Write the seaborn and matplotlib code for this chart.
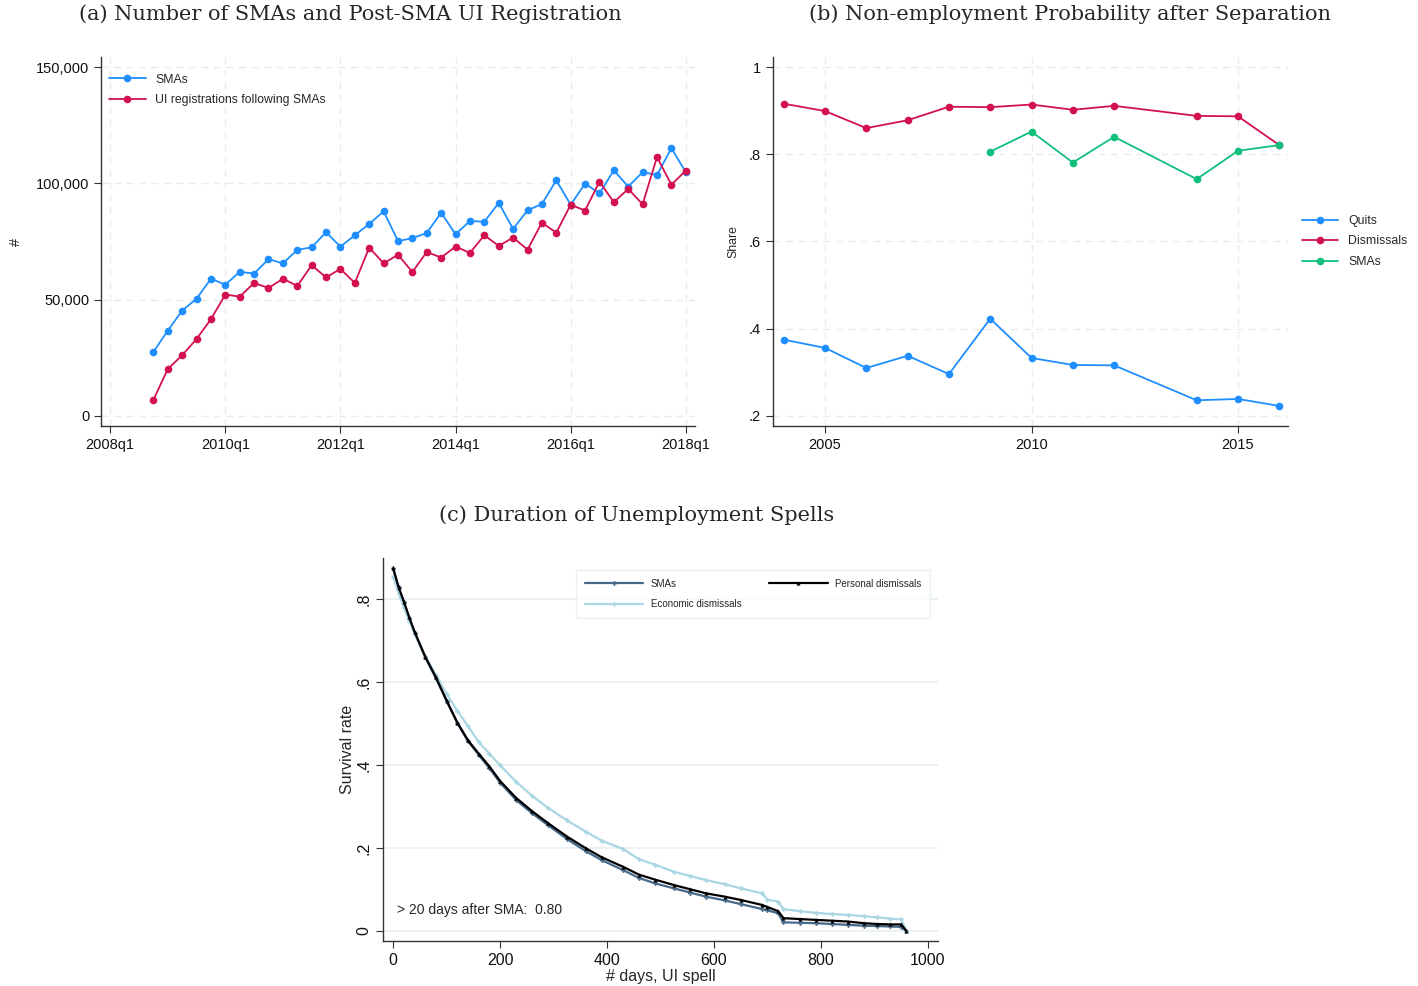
import numpy as np
import pandas as pd
import matplotlib
matplotlib.use("Agg")
import matplotlib.pyplot as plt
import seaborn as sns
from matplotlib.ticker import FuncFormatter

# ---- panel (a): quarterly counts, 2008q4 .. 2018q1
quarters = [str(p).replace("Q", "q") for p in pd.period_range("2008Q4", "2018Q1", freq="Q")]
smas = [27500, 36700, 45300, 50400, 59000, 56400, 62000, 61200, 67400, 65600,
        71400, 72500, 79000, 72800, 77700, 82500, 88000, 75200, 76400, 78700,
        87400, 78100, 83800, 83500, 91600, 80400, 88400, 91100, 101300, 90800,
        99900, 95700, 105600, 98600, 104800, 103600, 115100, 104800]
ui_reg = [6900, 20200, 26100, 33100, 41600, 52200, 51300, 57200, 55000, 59000,
          55900, 64800, 59600, 63200, 57200, 72400, 65600, 69300, 61900, 70500,
          68100, 72800, 70100, 77700, 73100, 76700, 71500, 83100, 78800, 90800,
          88300, 100700, 91900, 97600, 91000, 111300, 99400, 105500]

# ---- panel (b): non-employment share after separation
years_b = [2004, 2005, 2006, 2007, 2008, 2009, 2010, 2011, 2012, 2014, 2015, 2016]
quits = [0.375, 0.356, 0.310, 0.338, 0.296, 0.423, 0.333, 0.317, 0.316, 0.236, 0.239, 0.223]
dismissals = [0.916, 0.899, 0.860, 0.878, 0.909, 0.908, 0.914, 0.902, 0.911, 0.888, 0.887, 0.821]
years_sma = [2009, 2010, 2011, 2012, 2014, 2015, 2016]
sma_share = [0.806, 0.852, 0.781, 0.840, 0.743, 0.808, 0.821]

# ---- panel (c): survival in unemployment
days = [0, 10, 20, 30, 40, 60, 80, 100, 120, 140, 160, 180, 200, 230, 260, 290,
        325, 360, 390, 430, 460, 490, 525, 555, 585, 620, 650, 690, 700, 720,
        730, 760, 790, 820, 850, 880, 905, 930, 950, 960]
surv_sma = [0.875, 0.830, 0.793, 0.755, 0.720, 0.660, 0.610, 0.555, 0.502, 0.458,
            0.425, 0.393, 0.358, 0.316, 0.284, 0.255, 0.222, 0.193, 0.171, 0.147,
            0.128, 0.115, 0.103, 0.093, 0.083, 0.074, 0.065, 0.053, 0.050, 0.043,
            0.021, 0.020, 0.019, 0.017, 0.015, 0.013, 0.012, 0.011, 0.010, 0.0]
surv_econ = [0.855, 0.815, 0.782, 0.748, 0.717, 0.663, 0.618, 0.572, 0.532, 0.494,
             0.456, 0.428, 0.400, 0.360, 0.326, 0.297, 0.267, 0.240, 0.218, 0.198,
             0.173, 0.160, 0.143, 0.133, 0.123, 0.113, 0.103, 0.091, 0.076, 0.071,
             0.053, 0.048, 0.044, 0.041, 0.039, 0.036, 0.033, 0.030, 0.028, 0.0]
surv_pers = [0.875, 0.830, 0.795, 0.757, 0.722, 0.662, 0.612, 0.556, 0.503, 0.460,
             0.428, 0.397, 0.362, 0.321, 0.289, 0.260, 0.228, 0.200, 0.178, 0.155,
             0.136, 0.124, 0.111, 0.101, 0.091, 0.083, 0.075, 0.063, 0.058, 0.048,
             0.031, 0.029, 0.027, 0.025, 0.023, 0.019, 0.017, 0.016, 0.016, 0.0]

sns.set_theme(style="white")
plt.rcParams["font.family"] = ["Liberation Sans", "DejaVu Sans"]

BLUE = "#1f8fff"
RED = "#d2114e"
GREEN = "#0fc07c"
GRID = "#ebebeb"

fig = plt.figure(figsize=(14.18, 9.86), dpi=100)
W, H = 1418, 986


def box(l, t, r, b):
    return [l / W, 1 - b / H, (r - l) / W, (b - t) / H]


def style_axes(ax, dashed=True):
    for s in ["top", "right"]:
        ax.spines[s].set_visible(False)
    for s in ["left", "bottom"]:
        ax.spines[s].set_color("#333333")
        ax.spines[s].set_linewidth(1.0)
    ax.tick_params(direction="out", length=5, width=0.8, color="#333333",
                   left=True, bottom=True, labelsize=10.5, labelcolor="#111111")
    if dashed:
        ax.grid(True, color=GRID, linestyle=(0, (5, 4)), linewidth=1.0)
    ax.set_axisbelow(True)


# ---------- (a)
ax1 = fig.add_axes(box(101, 57, 695, 426))
dfa = pd.DataFrame({"q": quarters, "SMAs": smas, "UI": ui_reg})
dfa["t"] = [int(s[:4]) + (int(s[-1]) - 1) / 4 for s in dfa["q"]]
sns.lineplot(data=dfa, x="t", y="SMAs", ax=ax1, color=BLUE, marker="o",
             markersize=5.5, markeredgewidth=0, linewidth=1.3, label="SMAs")
sns.lineplot(data=dfa, x="t", y="UI", ax=ax1, color=RED, marker="o",
             markersize=5.5, markeredgewidth=0, linewidth=1.3,
             label="UI registrations following SMAs")
style_axes(ax1)
ax1.set_xlim(2007.84, 2018.16)
ax1.set_ylim(-4300, 154300)
ax1.set_xticks([2008, 2010, 2012, 2014, 2016, 2018])
ax1.set_xticklabels(["2008q1", "2010q1", "2012q1", "2014q1", "2016q1", "2018q1"])
ax1.set_yticks([0, 50000, 100000, 150000])
ax1.yaxis.set_major_formatter(FuncFormatter(lambda v, p: f"{int(v):,}"))
ax1.set_xlabel("")
ax1.set_ylabel("#", fontsize=10.5)
ax1.yaxis.set_label_coords((23 - 101) / 594, 0.5)
ax1.legend(loc="upper left", bbox_to_anchor=(-0.005, 0.985), frameon=False,
           fontsize=8.8, handlelength=3.0, labelspacing=0.7)

# ---------- (b)
ax2 = fig.add_axes(box(773, 57, 1288, 426))
sns.lineplot(x=years_b, y=quits, ax=ax2, color=BLUE, marker="o", markersize=5.5,
             markeredgewidth=0, linewidth=1.3, label="Quits")
sns.lineplot(x=years_b, y=dismissals, ax=ax2, color=RED, marker="o", markersize=5.5,
             markeredgewidth=0, linewidth=1.3, label="Dismissals")
sns.lineplot(x=years_sma, y=sma_share, ax=ax2, color=GREEN, marker="o", markersize=5.5,
             markeredgewidth=0, linewidth=1.3, label="SMAs")
style_axes(ax2)
ax2.set_xlim(2003.74, 2016.21)
ax2.set_ylim(0.177, 1.023)
ax2.set_xticks([2005, 2010, 2015])
ax2.set_yticks([0.2, 0.4, 0.6, 0.8, 1.0])
ax2.set_yticklabels([".2", ".4", ".6", ".8", "1"])
ax2.set_ylabel("Share", fontsize=8.8)
ax2.yaxis.set_label_coords((739 - 773) / 515, 0.5)
ax2.legend(loc="center left", bbox_to_anchor=(1.005, 0.5), frameon=False,
           fontsize=8.8, handlelength=3.0, labelspacing=0.7)

# ---------- (c)
ax3 = fig.add_axes(box(383, 558, 938, 941))
dfc = pd.DataFrame({"days": days, "SMAs": surv_sma, "Economic dismissals": surv_econ,
                    "Personal dismissals": surv_pers})
sns.lineplot(data=dfc, x="days", y="SMAs", ax=ax3, color="#46698a", marker="P",
             markersize=3.5, markeredgewidth=0, linewidth=1.6, label="SMAs")
sns.lineplot(data=dfc, x="days", y="Economic dismissals", ax=ax3, color="#a9d6e3",
             marker="P", markersize=3.5, markeredgewidth=0, linewidth=1.6,
             label="Economic dismissals")
sns.lineplot(data=dfc, x="days", y="Personal dismissals", ax=ax3, color="black",
             marker="^", markersize=3, markeredgewidth=0, linewidth=1.6,
             label="Personal dismissals")
style_axes(ax3, dashed=False)
ax3.grid(True, axis="y", color="#e6f0f2", linestyle="-", linewidth=1.2)
ax3.tick_params(labelsize=11.5)
ax3.set_xlim(-19, 1019)
ax3.set_ylim(-0.024, 0.9)
ax3.set_xticks([0, 200, 400, 600, 800, 1000])
ax3.set_yticks([0, 0.2, 0.4, 0.6, 0.8])
ax3.set_yticklabels(["0", ".2", ".4", ".6", ".8"], rotation=90, va="center")
ax3.set_xlabel("# days, UI spell", fontsize=11.5, labelpad=1)
ax3.set_ylabel("Survival rate", fontsize=11.5)
ax3.yaxis.set_label_coords((355 - 383) / 555, 0.5)
ax3.text(8, 0.05, "> 20 days after SMA:  0.80", fontsize=10, va="center")
leg = ax3.legend(loc="upper left", bbox_to_anchor=(0.339, 0.982, 0.656, 0.0),
                 mode="expand", ncol=2, fontsize=7, handlelength=6,
                 frameon=True, fancybox=False, borderpad=0.9, labelspacing=1.1)
leg.get_frame().set_edgecolor("#e4eef0")
leg.get_frame().set_linewidth(1.0)

# ---------- titles
tfont = dict(family="DejaVu Serif", fontsize=15, ha="center", va="center")
fig.text(350 / W, 1 - 14 / H, "(a) Number of SMAs and Post-SMA UI Registration", **tfont)
fig.text(1070 / W, 1 - 14 / H, "(b) Non-employment Probability after Separation", **tfont)
fig.text(637 / W, 1 - 515 / H, "(c) Duration of Unemployment Spells", **tfont)

fig.savefig("out.png", dpi=100, facecolor="white")
